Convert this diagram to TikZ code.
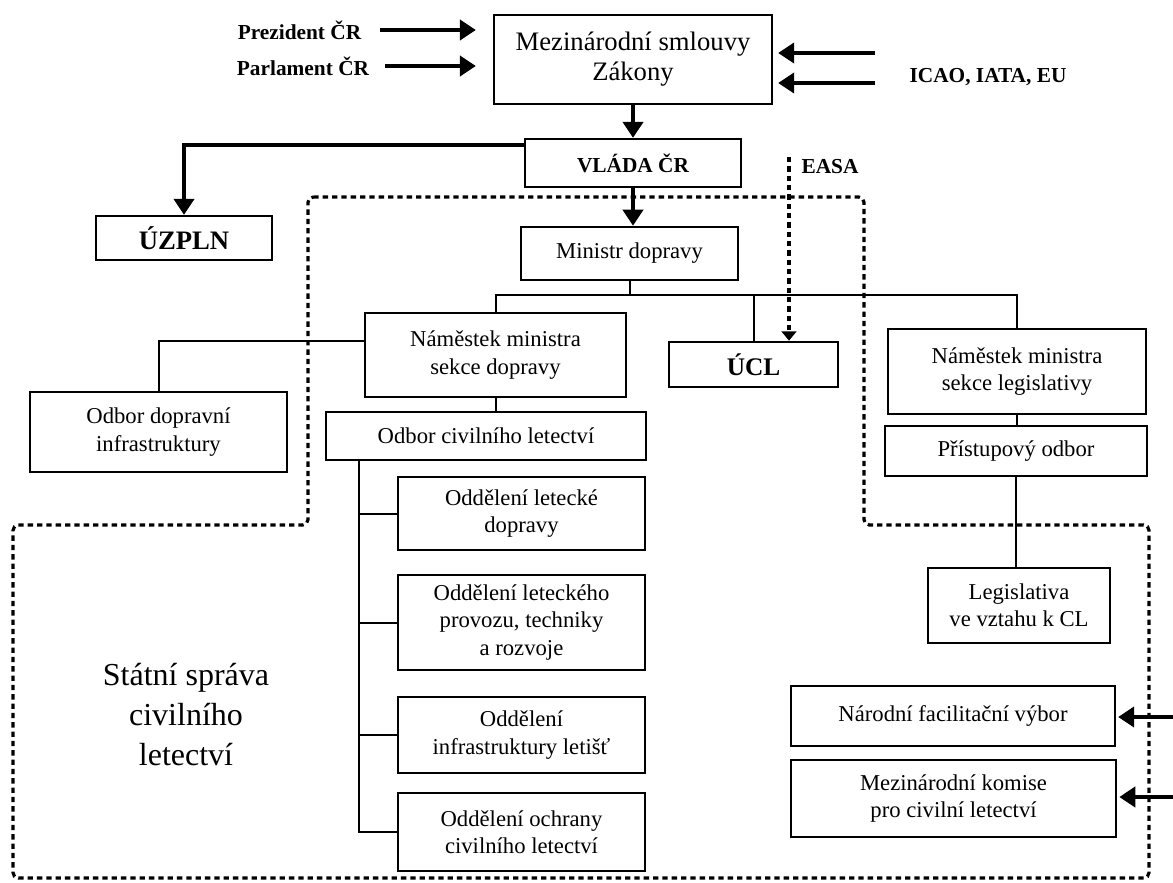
\documentclass[tikz,border=0pt]{standalone}
\usepackage{fontspec}
\setmainfont{Liberation Serif}
\usetikzlibrary{arrows.meta}

\begin{document}
\begin{tikzpicture}[x=0.75pt,y=-0.75pt]
\useasboundingbox (0,0) rectangle (1173,882);

\begin{scope}[
    every node/.style={rectangle,draw=black,line width=1.7pt,inner sep=0pt,align=center,
                       font=\fontsize{17}{20.5}\selectfont}]
    \node (ms) at (633, 59.5) [minimum width=208.5pt,minimum height=66.75pt,font=\fontsize{20}{22.5}\selectfont] {Mezinárodní smlouvy\\Zákony};
    \node (vlada) at (633, 163) [minimum width=162pt,minimum height=36pt,font=\bfseries\fontsize{16}{19}\selectfont] {VLÁDA ČR};
    \node (uzpln) at (184, 238) [minimum width=132pt,minimum height=33pt,font=\bfseries\fontsize{20}{23}\selectfont] {ÚZPLN};
    \node (ministr) at (629.5, 253.5) [minimum width=163pt,minimum height=40pt] {Ministr dopravy};

    % % 2nd level
    \node (nam1) at (495.5, 355) [minimum width=196pt,minimum height=63pt] {Náměstek ministra\\sekce dopravy};
    \node (ucl) at (753.5, 364.5) [minimum width=127pt,minimum height=34pt,font=\bfseries\fontsize{19}{22}\selectfont] {ÚCL};
    \node (nam2) at (1017, 371.5) [minimum width=193.5pt,minimum height=64pt] {Náměstek ministra\\sekce legislativy};
    \node (odi) at (158.5, 432) [minimum width=193pt,minimum height=60pt] {Odbor dopravní\\infrastruktury};

    % % 3rd level
    \node (odc) at (486, 436) [minimum width=240pt,minimum height=36pt] {Odbor civilního letectví};
    \node (pri) at (1016, 451) [minimum width=196.5pt,minimum height=37.5pt] {Přístupový odbor};
    \node (leg) at (1019, 605.5) [minimum width=136.5pt,minimum height=56pt] {Legislativa\\ve vztahu k CL};

    % % oddeleni
    \node (s1) at (521.5, 513.5) [minimum width=185pt,minimum height=55pt] {Oddělení letecké\\dopravy};
    \node (s2) at (521.5, 622.5) [minimum width=185pt,minimum height=71pt] {Oddělení leteckého\\provozu, techniky\\a rozvoje};
    \node (s3) at (521.5, 735) [minimum width=185pt,minimum height=57pt] {Oddělení\\infrastruktury letišť};
    \node (s4) at (521.5, 832) [minimum width=185pt,minimum height=58.5pt] {Oddělení ochrany\\civilního letectví};

    % % vybory
    \node (nfv) at (953, 716) [minimum width=243pt,minimum height=45pt] {Národní facilitační výbor};
    \node (mkc) at (953.5, 798.5) [minimum width=244pt,minimum height=58pt] {Mezinárodní komise\\pro civilní letectví};
\end{scope}

\begin{scope}[every node/.style={inner sep=0pt,font=\bfseries\fontsize{16}{19}\selectfont}]
    \node (prez) at (299.5, 30) {Prezident ČR};
    \node (parl) at (303, 66) {Parlament ČR};
    \node (icao) at (988, 77) {ICAO, IATA, EU};
    \node (easa) at (830, 167) {EASA};
\end{scope}
\node (ssl) at (186, 715) [align=center,font=\fontsize{24}{30}\selectfont] {Státní správa\\civilního\\letectví};

\coordinate (icao1) at (875, 53);
\coordinate (icao2) at (875, 83);
\coordinate (r1) at (1173, 717);
\coordinate (r2) at (1173, 797);
\coordinate (bus) at (629.5, 295);
\coordinate (trunk) at (359, 460);
\coordinate (e1) at (789, 157);

% dotted region
\draw [line width=2.4pt,dash pattern=on 4pt off 3pt,rounded corners=4pt]
    (308,197) -- (864,197) -- (864,525) -- (1149,525) -- (1149,878)
    -- (13,878) -- (13,525) -- (308,525) -- cycle;
\draw [line width=2.4pt,dash pattern=on 4pt off 3pt,-{Triangle[length=7pt,width=11pt]}]
    (e1) -- (e1 |- ucl.north);

\begin{scope}[>={Triangle[length=12pt,width=15pt]}, line width=3.6pt]
    \draw [->,shorten <=14pt,shorten >=12.75pt] (prez.east) -- (ms.west |- prez);
    \draw [->,shorten <=12pt,shorten >=12.75pt] (parl.east) -- (ms.west |- parl);
    \draw [->,shorten >=3.75pt] (icao1) -- (ms.east |- icao1);
    \draw [->,shorten >=3.75pt] (icao2) -- (ms.east |- icao2);
    \draw [->] (ms.south) -- (vlada.north);
    \draw [->] (vlada.south) -- (vlada.south |- ministr.north);
    \draw [->] ([yshift=13.5pt]vlada.west) -| (uzpln.north);
    \draw [->,shorten >=1.5pt] (r1) -- (nfv.east |- r1);
    \draw [->,shorten >=1.5pt] (r2) -- (mkc.east |- r2);
\end{scope}

\begin{scope}[line width=1.5pt]
    \draw (ministr.south) -- (bus);
    \draw (nam1.north) |- (bus) -| (nam2.north);
    \draw (ucl.north) -- (ucl.north |- bus);
    \draw ([yshift=10.5pt]nam1.west) -| (odi.north);
    \draw (nam1.south) -- (nam1.south |- odc.north);
    \draw (nam2.south) -- (nam2.south |- pri.north);
    \draw (pri.south) -- (pri.south |- leg.north);
    \draw (trunk) |- (s4.west);
    \foreach \s in {s1,s2,s3}
        \draw (trunk |- \s.west) -- (\s.west);
\end{scope}
\end{tikzpicture}
\end{document}
